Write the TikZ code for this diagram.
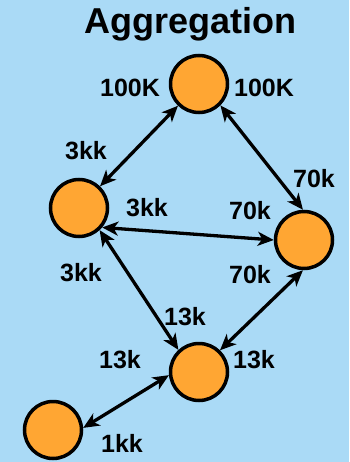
\documentclass[tikz,border=0pt]{standalone}
\usepackage{fontspec}
\setmainfont{Liberation Sans}
\usetikzlibrary{arrows.meta}
\definecolor{bgblue}{RGB}{170,218,246}
\definecolor{nodeorange}{RGB}{255,166,51}
\begin{document}
\begin{tikzpicture}[x=1pt,y=-1pt,
  vertex/.style={circle,draw=black,line width=3.5pt,fill=nodeorange,minimum size=57pt,inner sep=0pt},
  lbl/.style={anchor=base,inner sep=0pt,font=\fontsize{25}{30}\selectfont\bfseries},
  link/.style={line width=3.3pt,{Stealth[length=16pt,width=14pt,inset=4.5pt]}-{Stealth[length=16pt,width=14pt,inset=4.5pt]}}]
\fill[bgblue] (0,0) rectangle (349,462);
\useasboundingbox (0,0) rectangle (349,462);
\node[anchor=base,inner sep=0pt,font=\fontsize{36}{40}\selectfont\bfseries] (title) at (190.5,34) {Aggregation};
\node[vertex] (top) at (199,84) {};
\node[vertex] (left) at (79,208) {};
\node[vertex] (right) at (304,240) {};
\node[vertex] (bot) at (199,372) {};
\node[vertex] (bl) at (53,430) {};
\draw[link] (left) -- (top);
\draw[link] (top.-45) -- (right.92);
\draw[link] (left.-40) -- (right.180);
\draw[link] (left.-47) -- (bot.133);
\draw[link] (right.-92) -- (bot.46);
\draw[link] (bl.4) -- (bot.186);
\node[lbl] (l1) at (130,97) {100K};
\node[lbl] (l2) at (264,97) {100K};
\node[lbl] (l3) at (86,160) {3kk};
\node[lbl] (l4) at (314,188) {70k};
\node[lbl] (l5) at (147,216) {3kk};
\node[lbl] (l6) at (250,219) {70k};
\node[lbl] (l7) at (81,281) {3kk};
\node[lbl] (l8) at (250,283) {70k};
\node[lbl] (l9) at (185,325) {13k};
\node[lbl] (l10) at (120,368) {13k};
\node[lbl] (l11) at (254,368) {13k};
\node[lbl] (l12) at (122,452) {1kk};
\end{tikzpicture}
\end{document}
